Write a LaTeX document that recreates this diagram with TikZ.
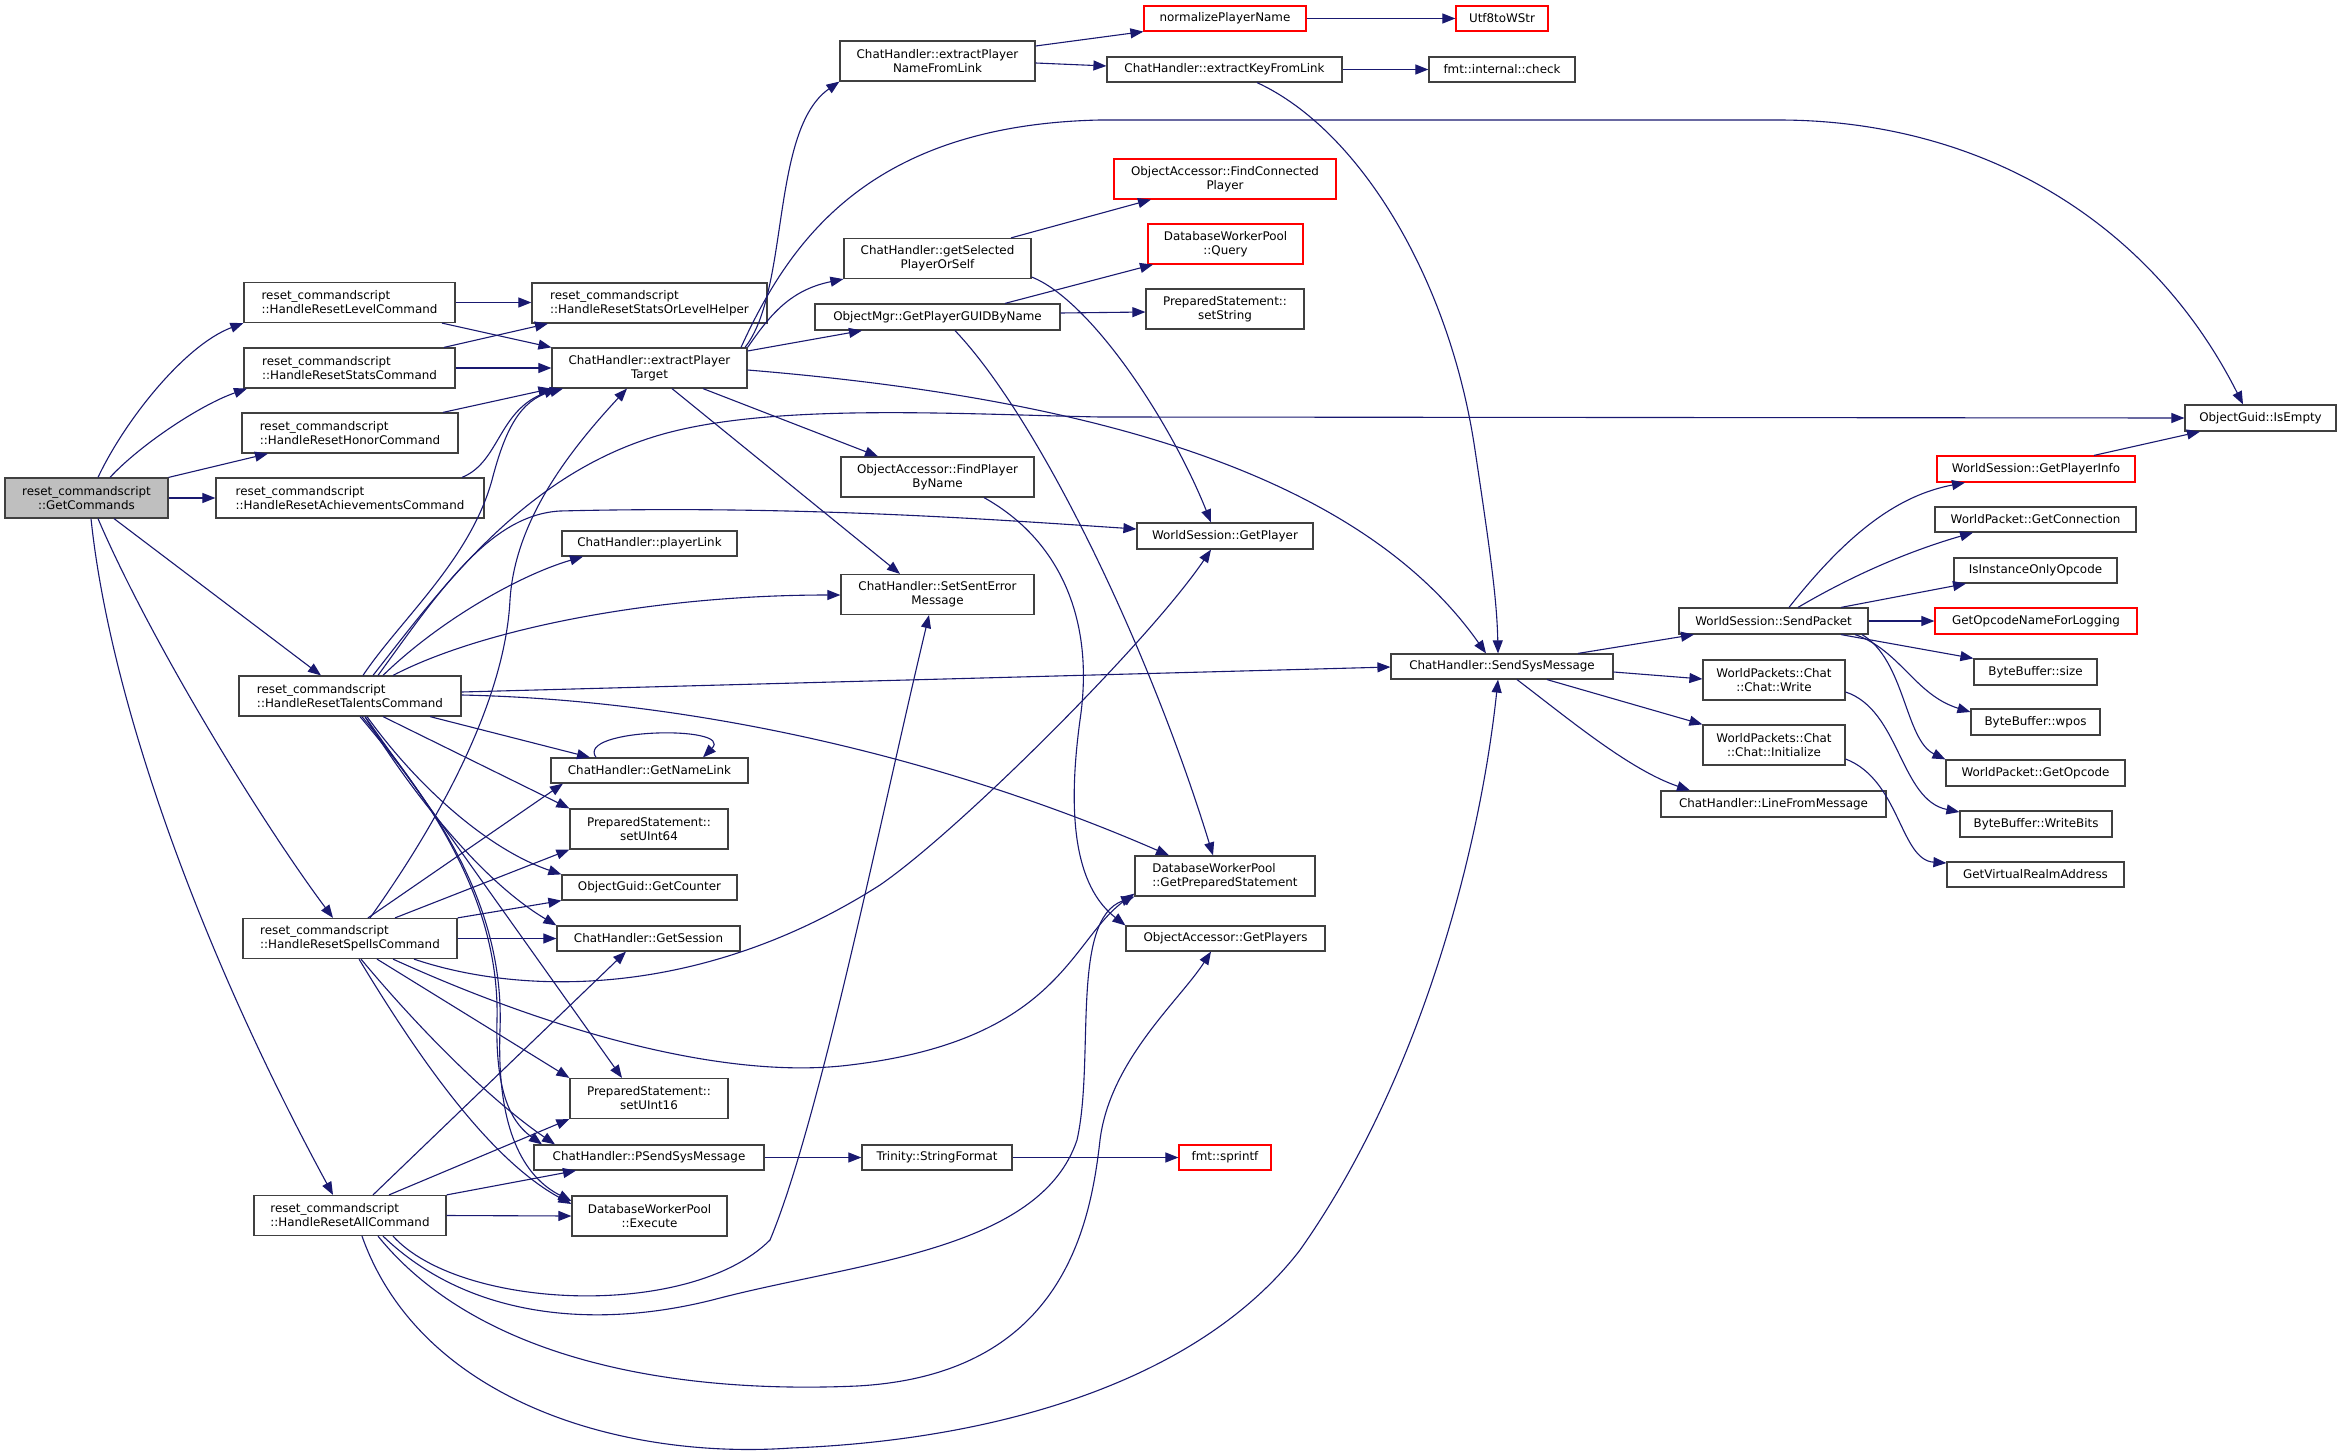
\documentclass[tikz,border=0pt]{standalone}
\usepackage{fontspec}
\setmainfont{DejaVu Sans}
\usetikzlibrary{arrows.meta}
\definecolor{edgeblue}{RGB}{25,25,112}
\definecolor{boxgray}{RGB}{64,64,64}
\definecolor{rootfill}{RGB}{191,191,191}
\newcommand{\gfont}{\fontsize{11.9}{14}\selectfont}
\tikzset{
  fn/.style={draw=boxgray, line width=1.2pt, fill=white, inner sep=0pt, font=\gfont, align=center, minimum height=26pt},
  two/.style={minimum height=40pt},
  lft/.style={align=left},
  trunc/.style={draw=red},
  call/.style={draw=edgeblue, line width=1.1pt, -{Triangle[length=13pt,width=10pt]}}
}
\begin{document}
\begin{tikzpicture}[x=1pt,y=-1pt]
\fill[white] (0,0) rectangle (2341,1455);
\useasboundingbox (0,0) rectangle (2341,1455);
% column 0
\node[fn,two,fill=rootfill,minimum width=163pt] (gc) at (86.5,498) {reset\_commandscript\\::GetCommands};
% column 1
\node[fn,two,lft,minimum width=211pt] (lvl) at (349.5,302.5) {reset\_commandscript\\::HandleResetLevelCommand};
\node[fn,two,lft,minimum width=211pt] (sts) at (349.5,368) {reset\_commandscript\\::HandleResetStatsCommand};
\node[fn,two,lft,minimum width=216pt] (hon) at (350,433) {reset\_commandscript\\::HandleResetHonorCommand};
\node[fn,two,lft,minimum width=268pt] (ach) at (350,498) {reset\_commandscript\\::HandleResetAchievementsCommand};
\node[fn,two,lft,minimum width=222pt] (tal) at (350,696) {reset\_commandscript\\::HandleResetTalentsCommand};
\node[fn,two,lft,minimum width=214pt] (spl) at (350,938.5) {reset\_commandscript\\::HandleResetSpellsCommand};
\node[fn,two,lft,minimum width=192pt] (all) at (350,1215.5) {reset\_commandscript\\::HandleResetAllCommand};
% column 2
\node[fn,two,lft,minimum width=235pt] (helper) at (649.5,303) {reset\_commandscript\\::HandleResetStatsOrLevelHelper};
\node[fn,two,minimum width=195pt] (ept) at (649.5,368) {ChatHandler::extractPlayer\\Target};
\node[fn,minimum width=175pt,minimum height=25pt] (playerLink) at (649.5,543.5) {ChatHandler::playerLink};
\node[fn,minimum width=197pt,minimum height=25pt] (getNameLink) at (649.5,770.5) {ChatHandler::GetNameLink};
\node[fn,two,minimum width=158pt] (setUInt64) at (649,829) {PreparedStatement::\\setUInt64};
\node[fn,minimum width=175pt,minimum height=25pt] (getCounter) at (649.5,887.5) {ObjectGuid::GetCounter};
\node[fn,minimum width=183pt,minimum height=25pt] (getSession) at (648.5,938.5) {ChatHandler::GetSession};
\node[fn,two,minimum width=158pt] (setUInt16) at (649,1098.5) {PreparedStatement::\\setUInt16};
\node[fn,minimum width=230pt,minimum height=25pt] (psend) at (649,1157.5) {ChatHandler::PSendSysMessage};
\node[fn,two,minimum width=155pt] (execute) at (649.5,1216) {DatabaseWorkerPool\\::Execute};
% column 3
\node[fn,two,minimum width=195pt] (nameFromLink) at (937.5,61) {ChatHandler::extractPlayer\\NameFromLink};
\node[fn,two,minimum width=187pt] (getSelected) at (937.5,258.5) {ChatHandler::getSelected\\PlayerOrSelf};
\node[fn,minimum width=245pt] (guidByName) at (937.5,317) {ObjectMgr::GetPlayerGUIDByName};
\node[fn,two,minimum width=193pt] (findByName) at (937.5,477) {ObjectAccessor::FindPlayer\\ByName};
\node[fn,two,minimum width=193pt] (setSentError) at (937.5,594.5) {ChatHandler::SetSentError\\Message};
\node[fn,minimum width=150pt,minimum height=25pt] (stringFormat) at (937,1157.5) {Trinity::StringFormat};
% column 4
\node[fn,trunc,minimum width=162pt,minimum height=25pt] (normalize) at (1225,18.5) {normalizePlayerName};
\node[fn,minimum width=235pt,minimum height=25pt] (keyFromLink) at (1224.5,69.5) {ChatHandler::extractKeyFromLink};
\node[fn,two,trunc,minimum width=222pt] (findConnected) at (1225,179) {ObjectAccessor::FindConnected\\Player};
\node[fn,two,trunc,minimum width=155pt] (query) at (1225.5,244) {DatabaseWorkerPool\\::Query};
\node[fn,two,minimum width=158pt] (setString) at (1225,309) {PreparedStatement::\\setString};
\node[fn,minimum width=176pt] (wsGetPlayer) at (1225,536) {WorldSession::GetPlayer};
\node[fn,two,lft,minimum width=180pt] (getPrepared) at (1225,876) {DatabaseWorkerPool\\::GetPreparedStatement};
\node[fn,minimum width=199pt,minimum height=25pt] (getPlayers) at (1225.5,938.5) {ObjectAccessor::GetPlayers};
\node[fn,trunc,minimum width=92pt,minimum height=25pt] (sprintf) at (1225,1157.5) {fmt::sprintf};
% column 5
\node[fn,trunc,minimum width=92pt,minimum height=25pt] (utf8) at (1502,18.5) {Utf8toWStr};
\node[fn,minimum width=146pt,minimum height=25pt] (check) at (1502,69.5) {fmt::internal::check};
\node[fn,minimum width=222pt,minimum height=25pt] (sendSys) at (1502,666.5) {ChatHandler::SendSysMessage};
% column 6
\node[fn,minimum width=189pt] (sendPacket) at (1773.5,621) {WorldSession::SendPacket};
\node[fn,two,minimum width=142pt] (chatWrite) at (1774,680) {WorldPackets::Chat\\::Chat::Write};
\node[fn,two,minimum width=142pt] (chatInit) at (1774,745) {WorldPackets::Chat\\::Chat::Initialize};
\node[fn,minimum width=225pt] (lineFrom) at (1773.5,804) {ChatHandler::LineFromMessage};
% column 7
\node[fn,trunc,minimum width=198pt] (getPlayerInfo) at (2036,469) {WorldSession::GetPlayerInfo};
\node[fn,minimum width=201pt,minimum height=25pt] (getConnection) at (2035.5,519.5) {WorldPacket::GetConnection};
\node[fn,minimum width=163pt,minimum height=25pt] (isInstanceOnly) at (2035.5,570.5) {IsInstanceOnlyOpcode};
\node[fn,trunc,minimum width=202pt] (getOpcodeName) at (2036,621) {GetOpcodeNameForLogging};
\node[fn,minimum width=123pt] (bbSize) at (2035.5,672) {ByteBuffer::size};
\node[fn,minimum width=129pt] (bbWpos) at (2035.5,722) {ByteBuffer::wpos};
\node[fn,minimum width=179pt] (wpGetOpcode) at (2035.5,773) {WorldPacket::GetOpcode};
\node[fn,minimum width=152pt] (writeBits) at (2036,824) {ByteBuffer::WriteBits};
\node[fn,minimum width=177pt,minimum height=25pt] (virtualRealm) at (2035.5,874.5) {GetVirtualRealmAddress};
% column 8
\node[fn,minimum width=151pt] (isEmpty) at (2260.5,418) {ObjectGuid::IsEmpty};

% ---- edges from GetCommands
\draw[call] (gc.north -| 98,0) .. controls (125,420) and (185,345) .. (lvl.south west);
\draw[call] (gc.north -| 110,0) .. controls (140,445) and (200,405) .. (sts.south -| 247,0);
\draw[call] (gc.north east) -- (hon.south -| 268,0);
\draw[call] (gc.east) -- (ach.west);
\draw[call] (gc.south -| 114,0) -- (tal.north -| 321,0);
\draw[call] (gc.south -| 98,0) .. controls (150,640) and (260,820) .. (spl.north -| 333,0);
\draw[call] (gc.south -| 91,0) .. controls (110,700) and (200,950) .. (all.north -| 333,0);
% ---- level / stats / honor / achievements
\draw[call] (lvl.east) -- (helper.west |- 0,302.5);
\draw[call] (lvl.south -| 442,0) -- (ept.north west);
\draw[call] (sts.north -| 444,0) -- (helper.south -| 548,0);
\draw[call] (sts.east) -- (ept.west);
\draw[call] (hon.north -| 443,0) -- (ept.south west);
\draw[call] (ach.north -| 462,0) .. controls (500,462) and (498,410) .. (ept.south -| 557,0);
% ---- talents
\draw[call] (tal.north -| 363,0) .. controls (400,620) and (470,560) .. (492,480) .. controls (505,430) and (520,400) .. (ept.south -| 563,0);
\draw[call] (tal.north -| 373,0) .. controls (440,590) and (520,480) .. (650,438) .. controls (760,402) and (950,414) .. (1100,417) -- (isEmpty.west);
\draw[call] (tal.north -| 378,0) .. controls (440,590) and (490,515) .. (560,511) .. controls (800,505) and (1000,520) .. (wsGetPlayer.west |- 0,529);
\draw[call] (tal.north -| 383,0) .. controls (440,620) and (520,575) .. (playerLink.south -| 583,0);
\draw[call] (tal.north -| 393,0) .. controls (480,630) and (650,595) .. (setSentError.west |- 0,595);
\draw[call] (tal.east |- 0,692) -- (sendSys.west |- 0,667);
\draw[call] (tal.east |- 0,695) .. controls (700,700) and (950,760) .. (getPrepared.north -| 1169,0);
\draw[call] (tal.south -| 430,0) -- (getNameLink.north -| 590,0);
\draw[call] (tal.south -| 383,0) -- (setUInt64.north west);
\draw[call] (tal.south -| 367,0) .. controls (420,790) and (490,850) .. (getCounter.north west);
\draw[call] (tal.south -| 365,0) .. controls (410,790) and (480,880) .. (getSession.north west);
\draw[call] (tal.south -| 365,0) -- (setUInt16.north -| 622,0);
\draw[call] (tal.south -| 362,0) .. controls (430,800) and (500,900) .. (497,1020) .. controls (495,1100) and (515,1125) .. (psend.north -| 542,0);
\draw[call] (tal.south -| 360,0) .. controls (430,800) and (505,900) .. (500,1030) .. controls (496,1140) and (530,1180) .. (execute.west |- 0,1201);
% ---- spells
\draw[call] (spl.north -| 370,0) .. controls (440,820) and (505,700) .. (510,600) .. controls (515,520) and (570,450) .. (ept.south -| 627,0);
\draw[call] (spl.north -| 368,0) -- (getNameLink.south -| 563,0);
\draw[call] (spl.north -| 395,0) -- (setUInt64.south west);
\draw[call] (spl.north east) -- (getCounter.south west);
\draw[call] (spl.east) -- (getSession.west |- 0,938.5);
\draw[call] (spl.south -| 414,0) .. controls (520,995) and (700,1000) .. (880,885) .. controls (960,830) and (1150,640) .. (wsGetPlayer.south -| 1211,0);
\draw[call] (spl.south -| 393,0) .. controls (560,1035) and (730,1080) .. (850,1065) .. controls (1060,1040) and (1070,940) .. ([yshift=3pt]getPrepared.south west);
\draw[call] (spl.south -| 377,0) -- (setUInt16.north west);
\draw[call] (spl.south -| 361,0) .. controls (420,1030) and (490,1100) .. (psend.north -| 555,0);
\draw[call] (spl.south -| 359,0) .. controls (420,1060) and (490,1160) .. (execute.west |- 0,1204);
% ---- all
\draw[call] (all.north -| 373,0) -- (getSession.south -| 626,0);
\draw[call] (all.north -| 389,0) -- (setUInt16.south west);
\draw[call] (all.north east) -- (psend.south -| 576,0);
\draw[call] (all.east) -- (execute.west);
\draw[call] (all.south -| 393,0) .. controls (460,1310) and (690,1320) .. (770,1240) .. controls (820,1120) and (880,820) .. (setSentError.south -| 929,0);
\draw[call] (all.south -| 383,0) .. controls (470,1320) and (600,1330) .. (720,1298) .. controls (860,1262) and (1040,1250) .. (1077,1140) .. controls (1095,1060) and (1070,920) .. (getPrepared.south west);
\draw[call] (all.south -| 378,0) .. controls (470,1350) and (650,1395) .. (857,1386) .. controls (1060,1375) and (1090,1230) .. (1100,1140) .. controls (1110,1060) and (1180,1000) .. (getPlayers.south -| 1211,0);
\draw[call] (all.south -| 362,0) .. controls (420,1400) and (620,1460) .. (791,1448) .. controls (1000,1440) and (1200,1380) .. (1300,1250) .. controls (1420,1080) and (1480,850) .. (sendSys.south -| 1498,0);
% ---- extractPlayerTarget
\draw[call] (ept.north -| 745,0) .. controls (790,290) and (770,130) .. (nameFromLink.south west);
\draw[call] (ept.north -| 741,0) .. controls (790,240) and (870,125) .. (1100,120) -- (1778,120) .. controls (1980,120) and (2150,220) .. (isEmpty.north -| 2243,0);
\draw[call] (ept.north east) .. controls (770,315) and (790,290) .. (getSelected.south west);
\draw[call] (ept.east |- 0,351) -- (guidByName.south -| 862,0);
\draw[call] (ept.south -| 703,0) -- (findByName.north -| 878,0);
\draw[call] (ept.south -| 672,0) -- (setSentError.north -| 900,0);
\draw[call] (ept.east |- 0,370) .. controls (1050,395) and (1350,460) .. (sendSys.north -| 1486,0);
% ---- others
\draw[call] (nameFromLink.east |- 0,46) -- (normalize.south west);
\draw[call] (nameFromLink.east |- 0,63) -- (keyFromLink.west |- 0,66);
\draw[call] (normalize.east) -- (utf8.west);
\draw[call] (keyFromLink.east) -- (check.west);
\draw[call] (keyFromLink.south -| 1257,0) .. controls (1360,130) and (1450,280) .. (1475,450) .. controls (1490,550) and (1497,600) .. (sendSys.north -| 1498,0);
\draw[call] (getSelected.north -| 1011,0) -- (findConnected.south -| 1151,0);
\draw[call] (getSelected.east |- 0,277) .. controls (1090,300) and (1170,420) .. (wsGetPlayer.north -| 1211,0);
\draw[call] (guidByName.north -| 1005,0) -- (query.south -| 1153,0);
\draw[call] (guidByName.east |- 0,313) -- (setString.west |- 0,312);
\draw[call] (guidByName.south -| 955,0) .. controls (1040,420) and (1150,650) .. (getPrepared.north -| 1213,0);
\draw[call] (findByName.south -| 984,0) .. controls (1060,540) and (1095,620) .. (1080,720) .. controls (1065,830) and (1080,890) .. (getPlayers.north west);
\draw[call] (getNameLink.north -| 596,0) .. controls (575,728) and (735,725) .. (getNameLink.north -| 703,0);
\draw[call] (psend.east) -- (stringFormat.west);
\draw[call] (stringFormat.east) -- (sprintf.west);
\draw[call] (sendSys.north -| 1578,0) -- (sendPacket.south -| 1694,0);
\draw[call] (sendSys.east |- 0,672) -- (chatWrite.west |- 0,679);
\draw[call] (sendSys.south -| 1547,0) -- (chatInit.north west);
\draw[call] (sendSys.south -| 1517,0) .. controls (1570,720) and (1630,770) .. (lineFrom.north -| 1690,0);
\draw[call] (sendPacket.north -| 1789,0) .. controls (1850,530) and (1900,495) .. (getPlayerInfo.south -| 1965,0);
\draw[call] (sendPacket.north -| 1798,0) .. controls (1870,565) and (1930,545) .. (getConnection.south -| 1973,0);
\draw[call] (sendPacket.north -| 1841,0) -- (isInstanceOnly.south -| 1966,0);
\draw[call] (sendPacket.east) -- (getOpcodeName.west);
\draw[call] (sendPacket.south -| 1841,0) -- (bbSize.north west);
\draw[call] (sendPacket.south -| 1855,0) .. controls (1900,650) and (1915,695) .. (bbWpos.west |- 0,712);
\draw[call] (sendPacket.south -| 1862,0) .. controls (1905,660) and (1905,740) .. (wpGetOpcode.north west);
\draw[call] (chatWrite.east |- 0,692) .. controls (1900,710) and (1900,800) .. (writeBits.west |- 0,812);
\draw[call] (chatInit.east |- 0,759) .. controls (1900,780) and (1900,860) .. (virtualRealm.west |- 0,863);
\draw[call] (getPlayerInfo.north -| 2094,0) -- (isEmpty.south -| 2200,0);
\end{tikzpicture}
\end{document}
